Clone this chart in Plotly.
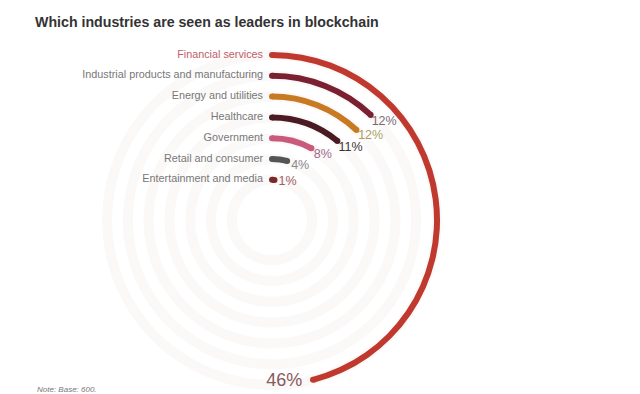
import plotly.graph_objects as go

categories = ["Financial services", "Industrial products and manufacturing",
              "Energy and utilities", "Healthcare", "Government",
              "Retail and consumer", "Entertainment and media"]
values = [46, 12, 12, 11, 8, 4, 1]
bar_colors = ["#c0392e", "#7b2030", "#c87a22", "#4b1b24", "#c85a7c", "#555555", "#7a2a2a"]
label_colors = ["#8a5a5a", "#7a6a72", "#a89e5e", "#3a3434", "#a0688a", "#8a8a8a", "#a06060"]
cat_colors = ["#c0606a", "#777777", "#777777", "#777777", "#777777", "#777777", "#777777"]

W, H = 640, 394
SH = 8                      # page body margin offset
CX, CY = 272 - SH, 220 - SH  # centre in figure pixels
RMAX = 172
R0, STEP = 165, 20.8
THICK = 6

radii = [R0 - STEP * i for i in range(len(values))]
ends = [v * 3.6 for v in values]

fig = go.Figure()

# faint background rings
fig.add_trace(go.Barpolar(
    theta=[180] * len(radii), width=[360] * len(radii),
    base=[r - 5 for r in radii], r=[10] * len(radii),
    marker=dict(color="#fbf8f8", line=dict(width=0)),
    hoverinfo="skip", showlegend=False))

# arcs
fig.add_trace(go.Barpolar(
    theta=[e / 2 for e in ends], width=ends,
    base=[r - THICK / 2 for r in radii], r=[THICK] * len(radii),
    marker=dict(color=bar_colors, line=dict(width=0)),
    showlegend=False))

# rounded caps
fig.add_trace(go.Scatterpolar(
    theta=[0] * len(radii) + ends, r=radii + radii, mode="markers",
    marker=dict(size=THICK, color=bar_colors + bar_colors, line=dict(width=0)),
    hoverinfo="skip", showlegend=False))

# category labels
fig.add_trace(go.Scatterpolar(
    theta=[0] * len(radii), r=radii, mode="text",
    text=[c + "   " for c in categories], textposition="middle left",
    textfont=dict(family="Liberation Sans, Arial", size=10.8, color=cat_colors),
    hoverinfo="skip", showlegend=False))

# value labels
offs_px = [29, 14, 14, 14, 13, 14, 13]
dr = [-3, 5, 6, 4, 1, 0, 1]
lab_r = [r + d for r, d in zip(radii, dr)]
lab_theta = [e + o / r * 57.2958 for e, o, r in zip(ends, offs_px, radii)]
fig.add_trace(go.Scatterpolar(
    theta=lab_theta, r=lab_r, mode="text",
    text=[f"{v}%" for v in values], textposition="middle center",
    textfont=dict(family="Liberation Sans, Arial",
                  size=[18] + [12.5] * (len(values) - 1), color=label_colors),
    hoverinfo="skip", showlegend=False))

fig.update_layout(
    width=W, height=H, margin=dict(l=0, r=0, t=0, b=0),
    paper_bgcolor="white", plot_bgcolor="white",
    polar=dict(
        domain=dict(x=[(CX - RMAX) / W, (CX + RMAX) / W],
                    y=[(H - CY - RMAX) / H, (H - CY + RMAX) / H]),
        bgcolor="rgba(0,0,0,0)",
        radialaxis=dict(range=[0, RMAX], visible=False, showgrid=False),
        angularaxis=dict(rotation=90, direction="clockwise", visible=False,
                         showgrid=False),
        barmode="overlay"),
    annotations=[
        dict(text="<b>Which industries are seen as leaders in blockchain</b>",
             x=(33 - SH) / W, y=1 - (22 - SH) / H, xref="paper", yref="paper",
             xanchor="left", yanchor="middle", showarrow=False,
             font=dict(family="Liberation Sans, Arial", size=14.2, color="#333333")),
        dict(text="<i>Note: Base: 600.</i>", x=(35 - SH) / W, y=1 - (389 - SH) / H,
             xref="paper", yref="paper", xanchor="left", yanchor="middle",
             showarrow=False,
             font=dict(family="Liberation Sans, Arial", size=8, color="#777777")),
    ],
)

fig.write_html("out.html")
